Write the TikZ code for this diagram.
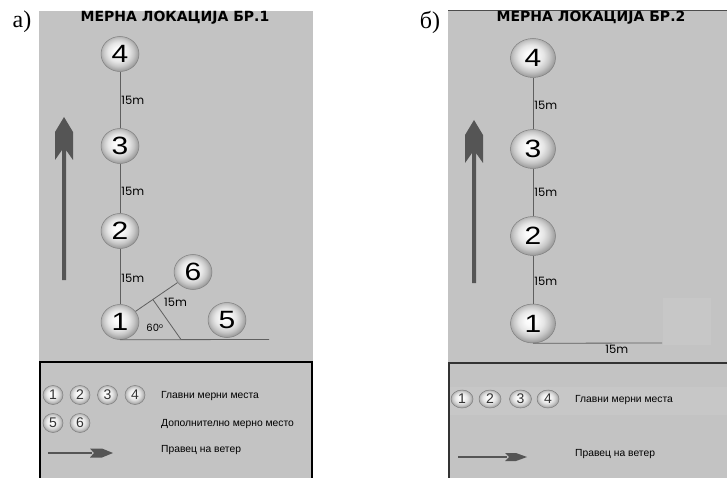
\documentclass[tikz,border=0pt]{standalone}
\usepackage{fontspec}
\setmainfont{Liberation Sans}
\newfontfamily\seriffont{Liberation Serif}
\newfontfamily\titlefont{DejaVu Sans}
\newfontfamily\geofont{Poppins}
\usetikzlibrary{shapes.geometric,calc}
\definecolor{bg}{RGB}{195,195,195}
\definecolor{bglight}{RGB}{199,199,199}
\definecolor{arr}{RGB}{85,85,85}
\definecolor{ln}{RGB}{95,95,95}
\newcommand{\wdig}[1]{\scalebox{1.2}[1]{#1}}
\pgfdeclareradialshading{myball}{\pgfpoint{-3bp}{4bp}}{color(0bp)=(white); color(6bp)=(black!2); color(14bp)=(black!10); color(20bp)=(black!22); color(25bp)=(black!36); color(29bp)=(black!48); color(50bp)=(black!48)}
\begin{document}
\begin{tikzpicture}[x=1pt,y=-1pt,
  ballA/.style={ellipse, draw=black!50, line width=0.5pt, shading=myball, inner sep=0pt,
    minimum width=38pt, minimum height=35pt, font=\fontsize{25}{25}\selectfont},
  ballB/.style={ellipse, draw=black!50, line width=0.5pt, shading=myball, inner sep=0pt,
    minimum width=45pt, minimum height=39pt, font=\fontsize{25}{25}\selectfont},
  ballSA/.style={ellipse, draw=black!50, line width=0.5pt, shading=myball, inner sep=0pt,
    minimum width=20pt, minimum height=19pt, font=\fontsize{14}{14}\selectfont, text=black!80},
  ballSB/.style={ellipse, draw=black!50, line width=0.5pt, shading=myball, inner sep=0pt,
    minimum width=22pt, minimum height=18pt, font=\fontsize{14}{14}\selectfont, text=black!80},
  conn/.style={draw=ln, line width=0.8pt},
  dist/.style={anchor=west, inner sep=1pt, font=\geofont\fontsize{11.5}{11.5}\selectfont},
  legtext/.style={anchor=west, inner sep=0pt, font=\fontsize{10.3}{10.3}\selectfont},
  titletext/.style={inner sep=0pt, font=\titlefont\bfseries\fontsize{14}{14}\selectfont},
  paneltag/.style={inner sep=0pt, font=\seriffont\fontsize{24}{24}\selectfont}
]
\useasboundingbox (0,0) rectangle (727,478);
\fill[white] (0,0) rectangle (727,478);

% ---------- panel a ----------
\fill[bg] (39,11) rectangle (313,478);
\draw[black, line width=1.2pt] (40,480) -- (40,362) -- (312,362) -- (312,480);
\node[paneltag] (taga) at (22,22) {а)};
\node[titletext] (titlea) at (175,18) {МЕРНА ЛОКАЦИЈА БР.1};

\fill[arr, shift={(64,117)}] (0,0) -- (9,15) -- (9,43) -- (2,33) -- (2,163) -- (-2,163) -- (-2,33) -- (-9,43) -- (-9,15) -- cycle;

\node[ballA] (a4) at (120,54) {\wdig{4}};
\node[ballA] (a3) at (120,146) {\wdig{3}};
\node[ballA] (a2) at (120,231) {\wdig{2}};
\node[ballA] (a1) at (120,322) {\wdig{1}};
\node[ballA] (a6) at (193,272) {\wdig{6}};
\node[ballA] (a5) at (227,320) {\wdig{5}};

\draw[conn] (a4) -- node[dist, pos=0.51] {15m} (a3);
\draw[conn] (a3) -- node[dist, pos=0.55] {15m} (a2);
\draw[conn] (a2) -- node[dist, pos=0.53] {15m} (a1);
\draw[conn] (a1) -- (a6);
\coordinate (aend) at (269,339.5);
\draw[conn] (a1.south) -- (aend);
\coordinate (aperp) at ($(a1)!0.45!(a6)$);
\coordinate (afoot) at (181,339.5);
\draw[conn] (aperp) -- (afoot);
\node[dist] (a15) at (163,302) {15m};
\node[inner sep=0pt, font=\geofont\fontsize{10}{10}\selectfont] (a60) at (155,328) {60$^{\mathrm{o}}$};

\node[ballSA] (la1) at (53,395) {1};
\node[ballSA] (la2) at (80,395) {2};
\node[ballSA] (la3) at (107.5,395) {3};
\node[ballSA] (la4) at (135,395) {4};
\node[ballSA] (la5) at (53,423) {5};
\node[ballSA] (la6) at (80,423) {6};
\node[legtext] (ta1) at (161,396) {Главни мерни места};
\node[legtext] (ta2) at (161,424) {Дополнително мерно место};
\node[legtext] (ta3) at (161,450) {Правец на ветер};
\coordinate (wa0) at (48,453);
\coordinate (wa1) at (92,453);
\draw[arr, line width=2pt] (wa0) -- (wa1);
\fill[arr, shift={(wa1)}] (-2,-4.5) -- (10,-4.5) -- (21,0) -- (10,4.5) -- (-2,4.5) -- (2,0) -- cycle;

% ---------- panel b ----------
\fill[bg] (448,11) rectangle (727,478);
\fill[bglight] (449,387) rectangle (727,415);
\fill[bglight] (663,298) rectangle (711,345);
\draw[black!70, line width=1pt] (448,11) -- (727,11);
\draw[black!80, line width=2pt] (449,480) -- (449,363) -- (727,363);
\node[paneltag] (tagb) at (430,22) {б)};
\node[titletext] (titleb) at (591,18) {МЕРНА ЛОКАЦИЈА БР.2};

\fill[arr, shift={(474,120)}] (0,0) -- (9,15) -- (9,43) -- (2,33) -- (2,163) -- (-2,163) -- (-2,33) -- (-9,43) -- (-9,15) -- cycle;

\node[ballB] (b4) at (533,58) {\wdig{4}};
\node[ballB] (b3) at (533,149) {\wdig{3}};
\node[ballB] (b2) at (533,236) {\wdig{2}};
\node[ballB] (b1) at (533,323.5) {\wdig{1}};

\draw[conn] (b4) -- node[dist, pos=0.54] {15m} (b3);
\draw[conn] (b3) -- node[dist, pos=0.5] {15m} (b2);
\draw[conn] (b2) -- node[dist, pos=0.53] {15m} (b1);
\coordinate (bend) at (662,343);
\draw[conn] (b1.south) -- node[below=1pt, pos=0.65, inner sep=1pt, font=\geofont\fontsize{11.5}{11.5}\selectfont] {15m} (bend);

\node[ballSB] (lb1) at (462,399) {1};
\node[ballSB] (lb2) at (490,399) {2};
\node[ballSB] (lb3) at (520.5,399) {3};
\node[ballSB] (lb4) at (548,399) {4};
\node[legtext] (tb1) at (575,400) {Главни мерни места};
\node[legtext] (tb3) at (575,454) {Правец на ветер};
\coordinate (wb0) at (458,457);
\coordinate (wb1) at (507,457);
\draw[arr, line width=2pt] (wb0) -- (wb1);
\fill[arr, shift={(wb1)}] (-2,-4) -- (9,-4) -- (20,0) -- (9,4) -- (-2,4) -- (2,0) -- cycle;
\end{tikzpicture}
\end{document}
